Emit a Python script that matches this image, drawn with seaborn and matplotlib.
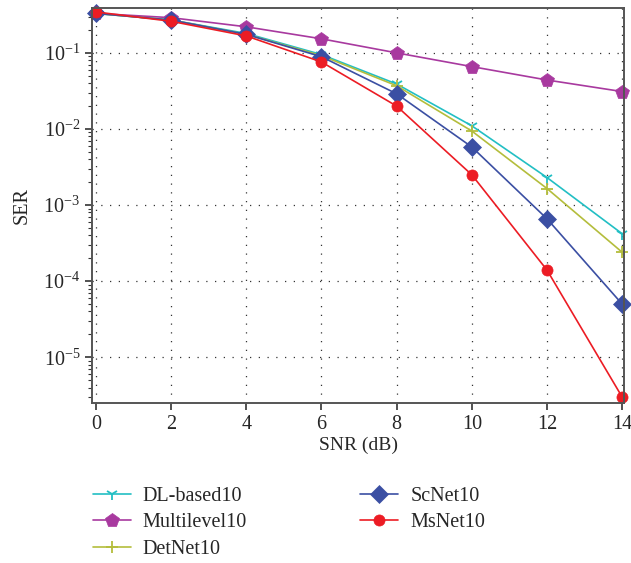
import numpy as np
import pandas as pd
import matplotlib
matplotlib.use("Agg")
import matplotlib.pyplot as plt
import seaborn as sns
from matplotlib.ticker import LogLocator, NullFormatter

snr = [0, 2, 4, 6, 8, 10, 12, 14]
dl_based10 = [0.33, 0.27, 0.18, 0.095, 0.039, 0.011, 0.0023, 0.00042]
multilevel10 = [0.33, 0.29, 0.22, 0.153, 0.10, 0.066, 0.044, 0.031]
detnet10 = [0.33, 0.27, 0.175, 0.092, 0.037, 0.0094, 0.00165, 0.00024]
scnet10 = [0.33, 0.27, 0.175, 0.089, 0.029, 0.0058, 0.00066, 0.00005]
msnet10 = [0.345, 0.26, 0.167, 0.076, 0.020, 0.0025, 0.00014, 0.000003]

names = ["DL-based10", "Multilevel10", "DetNet10", "ScNet10", "MsNet10"]
series = [dl_based10, multilevel10, detnet10, scnet10, msnet10]
colors = ["#22bfc4", "#a8399f", "#b4bd3c", "#3b4fa3", "#ec1c24"]
markers = ["1", "p", "+", "D", "o"]
msizes = [9, 10, 9, 9, 8]

sns.set_style("ticks")
plt.rcParams["font.family"] = ["Liberation Serif", "DejaVu Serif"]
plt.rcParams["mathtext.fontset"] = "stix"

fig = plt.figure(figsize=(6.31, 5.63), dpi=100)
ax = fig.add_axes([0.146, 0.284, 0.843, 0.702])

for name, vals, c, m, ms in zip(names, series, colors, markers, msizes):
    df = pd.DataFrame({"SNR": snr, "SER": vals})
    sns.lineplot(data=df, x="SNR", y="SER", ax=ax, color=c, marker=m,
                 markersize=ms, markeredgecolor=c, markeredgewidth=1.3 if m in ("1", "+") else 0.5,
                 linewidth=1.2, label=name, clip_on=False)

ax.set_yscale("log")
ax.set_xlim(-0.1, 14.05)
ax.set_ylim(2.5e-6, 0.39)
ax.set_xticks(snr)
ax.yaxis.set_minor_locator(LogLocator(base=10, subs=np.arange(2, 10), numticks=20))
ax.yaxis.set_minor_formatter(NullFormatter())
ax.set_yticks([1e-5, 1e-4, 1e-3, 1e-2, 1e-1])
ax.grid(True, which="major", color="#333333", linestyle=(0, (1, 6)), linewidth=0.9)
for s in ax.spines.values():
    s.set_color("#555555")
    s.set_linewidth(1.4)
ax.tick_params(axis="both", which="major", labelsize=14.5, length=5, width=1.2, color="#333333")
ax.tick_params(axis="y", which="minor", length=3, width=0.8, color="#333333")
ax.set_xlabel("SNR (dB)", fontsize=14, labelpad=2)
ax.set_ylabel("SER", fontsize=14.5, labelpad=8)

handles, labels = ax.get_legend_handles_labels()
leg = fig.legend(handles, labels,
                 loc="upper left", bbox_to_anchor=(0.118, 0.168), ncol=2,
                 frameon=False, fontsize=14.5, handlelength=1.9, handletextpad=0.6,
                 columnspacing=5.6, labelspacing=0.38)
if ax.get_legend():
    ax.get_legend().remove()

fig.savefig("out.png", dpi=100)
